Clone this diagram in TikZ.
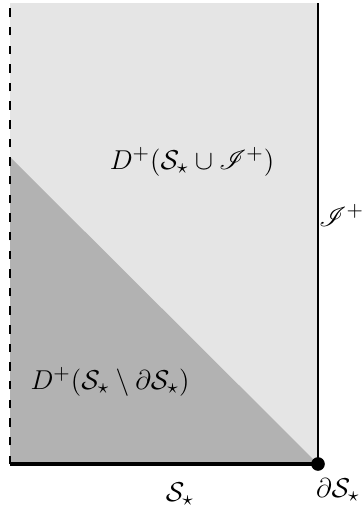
\documentclass[tikz,border=0pt]{standalone}
\usepackage{amsmath, amssymb, mathrsfs}
\usetikzlibrary{positioning}

\begin{document}
\begin{tikzpicture}[x=0.44pt, y=-0.44pt, every node/.style={font=\fontsize{12.8}{15}\selectfont}]
    \useasboundingbox (0,0) rectangle (361,509);

    % Corners of the region
    \coordinate (BL) at (10,464);
    \coordinate (BR) at (318,464);
    \coordinate (TL) at (10,3);
    \coordinate (TR) at (318,3);
    \coordinate (Edge) at (10,157);

    % Domains of dependence
    \fill[black!10] (TL) rectangle (BR);
    \fill[black!30] (Edge) -- (BL) -- (BR) -- cycle;

    % Boundaries
    \draw[line width=0.65pt, dash pattern=on 3.7pt off 4.5pt] (BL) -- (TL);
    \draw[line width=0.5pt] (BR) -- (TR);
    \draw[line width=1.8pt] (BL) -- (BR);
    \fill (BR) circle (3pt);

    % Labels
    \node (DUnion) at (192,162) {$D^+(\mathcal{S}_\star \cup \mathscr{I}^+)$};
    \node (DMinus) at (110,382) {$D^+(\mathcal{S}_\star \setminus \partial\mathcal{S}_\star)$};
    \node[right=-3pt] (Scri) at (TR |- 0,215) {$\mathscr{I}^+$};
    \node (Slice) at (180,494) {$\mathcal{S}_\star$};
    \node (Bdry) at (338,490) {$\partial\mathcal{S}_\star$};
\end{tikzpicture}
\end{document}
